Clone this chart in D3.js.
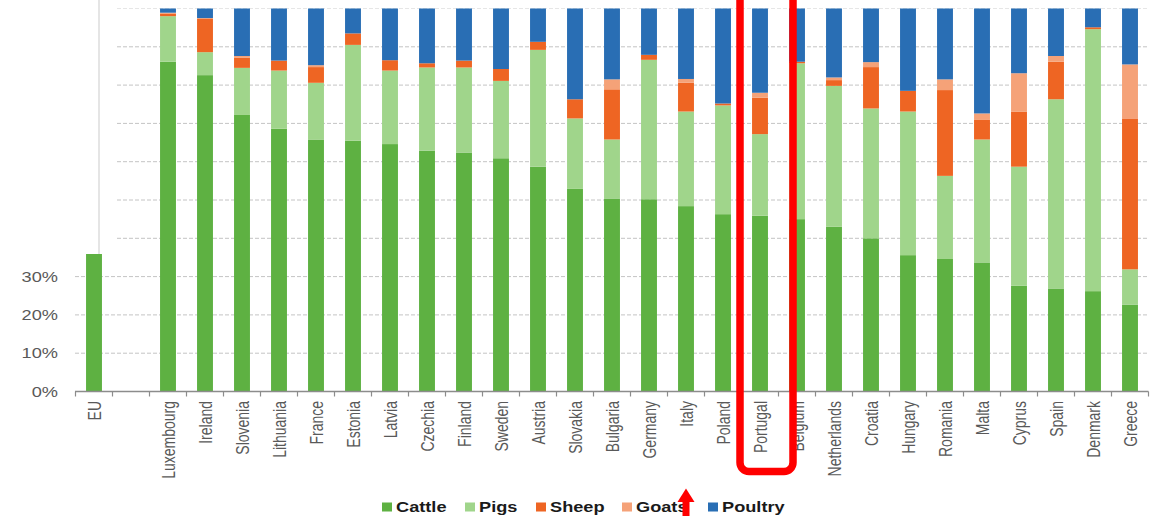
<!DOCTYPE html>
<html>
<head>
<meta charset="utf-8">
<script src="https://cdn.jsdelivr.net/npm/d3@7"></script>
<style>
  html, body { margin: 0; padding: 0; background: #fff; }
  svg { display: block; font-family: "Liberation Sans", Arial, sans-serif; }
</style>
</head>
<body>
<svg id="chart" width="1166" height="516"></svg>
<script>
// Livestock units by species, share of total (%)
const categories = ["EU", " ", "Luxembourg", "Ireland", "Slovenia", "Lithuania", "France", "Estonia",
  "Latvia", "Czechia", "Finland", "Sweden", "Austria", "Slovakia", "Bulgaria", "Germany", "Italy",
  "Poland", "Portugal", "Belgium", "Netherlands", "Croatia", "Hungary", "Romania", "Malta", "Cyprus",
  "Spain", "Denmark", "Greece"];

const seriesNames = ["Cattle", "Pigs", "Sheep", "Goats", "Poultry"];

const cattle  = [35.9, null, 86.1, 82.6, 72.2, 68.6, 65.8, 65.5, 64.6, 62.9, 62.4, 60.9, 58.7, 52.9, 50.4, 50.2, 48.4, 46.3, 45.9, 45.0, 43.0, 40.0, 35.6, 34.6, 33.7, 27.6, 26.9, 26.2, 22.7];
const pigs    = [null, null, 11.9,  6.0, 12.3, 15.2, 14.8, 25.0, 19.2, 21.7, 22.2, 20.2, 30.5, 18.4, 15.4, 36.4, 24.7, 28.4, 21.3, 40.7, 36.8, 33.9, 37.5, 21.7, 32.1, 31.1, 49.4, 68.4,  9.2];
const sheep   = [null, null,  0.7,  8.8,  2.7,  2.6,  4.1,  3.0,  2.7,  1.1,  1.8,  3.1,  2.1,  5.0, 13.1,  1.3,  7.5,  0.5,  9.5,  0.4,  1.5, 10.8,  5.4, 22.4,  5.1, 14.4,  9.8,  0.5, 39.4];
const goats   = [null, null,  0.2,  0.1,  0.4,  0.0,  0.5,  0.0,  0.0,  0.0,  0.0,  0.0,  0.0,  0.0,  2.6,  0.0,  1.0,  0.0,  1.3,  0.0,  0.7,  1.3,  0.0,  2.8,  1.7, 10.0,  1.5,  0.0, 14.1];
const poultry = [null, null,  1.1,  2.5, 12.4, 13.6, 14.8,  6.5, 13.5, 14.3, 13.6, 15.8,  8.7, 23.7, 18.5, 12.1, 18.4, 24.8, 22.0, 13.9, 18.0, 14.0, 21.5, 18.5, 27.4, 16.9, 12.4,  4.9, 14.6];

const yTicks = [0, 10, 20, 30, 40, 50, 60, 70, 80, 90, 100];
const colors = ["#5eb142", "#a0d58b", "#ee6523", "#f5a278", "#296eb4"];

const rows = categories.map((c, i) => ({
  country: c, Cattle: cattle[i], Pigs: pigs[i], Sheep: sheep[i], Goats: goats[i], Poultry: poultry[i]
}));

const svg = d3.select("#chart");
const textColor = "#595959";
const stretch = 1.3;

const x = d3.scaleBand().domain(categories).range([75.5, 1148.5]).paddingInner(0.57).paddingOuter(0.285);
const y = d3.scaleLinear().domain([0, 100]).range([391.5, 8.5]);
const color = d3.scaleOrdinal().domain(seriesNames).range(colors);

// Gridlines
svg.append("g").selectAll("line").data(yTicks.filter(t => t > 0)).join("line")
  .attr("x1", 75).attr("x2", 1148)
  .attr("y1", d => y(d)).attr("y2", d => y(d))
  .attr("stroke", d => d === 100 ? "#e6e6e6" : "#c4c4c4")
  .attr("stroke-width", 1)
  .attr("stroke-dasharray", "4,2");

// Stacked bars
const stack = d3.stack().keys(seriesNames).value((d, k) => d[k] ?? 0);
const layers = stack(rows);

svg.append("g").selectAll("g").data(layers).join("g")
  .attr("fill", d => color(d.key))
  .selectAll("rect").data(d => d.filter(p => p.data[d.key] != null && p[1] > p[0])).join("rect")
  .attr("x", d => x(d.data.country))
  .attr("width", x.bandwidth())
  .attr("y", d => y(d[1]))
  .attr("height", d => y(d[0]) - y(d[1]));

// X axis line and category ticks
const xAxis = svg.append("g");
xAxis.append("line")
  .attr("x1", 75).attr("x2", 1148.5).attr("y1", 391.5).attr("y2", 391.5)
  .attr("stroke", "#8c8c8c").attr("stroke-width", 1.5);
xAxis.selectAll("line.tick").data(d3.range(categories.length + 1)).join("line")
  .attr("class", "tick")
  .attr("x1", i => 75.5 + i * x.step()).attr("x2", i => 75.5 + i * x.step())
  .attr("y1", 391.5).attr("y2", 396.5)
  .attr("stroke", "#8c8c8c").attr("stroke-width", 1.2);

// Category labels, rotated
xAxis.selectAll("text").data(categories).join("text")
  .attr("transform", d => `translate(${x(d) + x.bandwidth() / 2},401) scale(${stretch},1) rotate(-90)`)
  .attr("text-anchor", "end")
  .attr("dominant-baseline", "central")
  .attr("font-size", 14)
  .attr("fill", textColor)
  .text(d => d.trim());

// Y tick labels
svg.append("g").selectAll("text").data(yTicks).join("text")
  .attr("transform", d => `translate(58,${y(d)}) scale(${stretch},1)`)
  .attr("text-anchor", "end")
  .attr("dominant-baseline", "central")
  .attr("font-size", 14)
  .attr("fill", textColor)
  .text(d => d + "%");

// Blank panel over the upper-left corner
svg.append("rect").attr("x", 0).attr("y", 0).attr("width", 116.5).attr("height", 254)
  .attr("fill", "#fff");
svg.append("line").attr("x1", 99).attr("x2", 99).attr("y1", 0).attr("y2", 254)
  .attr("stroke", "#dcdcdc").attr("stroke-width", 1.5);

// Legend
const legendX = [382, 465, 536, 622, 708];
const legend = svg.append("g").selectAll("g").data(seriesNames).join("g")
  .attr("transform", (d, i) => `translate(${legendX[i]},507)`);
legend.append("rect").attr("x", 0).attr("y", -4.5).attr("width", 10).attr("height", 9)
  .attr("fill", d => color(d));
legend.append("text")
  .attr("transform", `translate(14,0) scale(${stretch},1)`)
  .attr("dominant-baseline", "central")
  .attr("font-size", 14).attr("font-weight", "bold")
  .attr("fill", "#1a1a1a")
  .text(d => d);

// Highlight around Portugal
const px = x("Portugal") + x.bandwidth() / 2;
svg.append("rect")
  .attr("x", px - 20).attr("y", -30).attr("width", 53).attr("height", 501.5)
  .attr("rx", 9).attr("ry", 9)
  .attr("fill", "none").attr("stroke", "#ff0000").attr("stroke-width", 7.5);

// Arrow pointing at the legend
const ax = x("Italy") + x.bandwidth() / 2;
svg.append("rect").attr("x", ax - 3.5).attr("y", 500).attr("width", 7).attr("height", 20).attr("fill", "#ff0000");
svg.append("path")
  .attr("d", `M${ax},488.5 L${ax + 8.5},502 L${ax - 8.5},502 Z`)
  .attr("fill", "#ff0000");
</script>
</body>
</html>
